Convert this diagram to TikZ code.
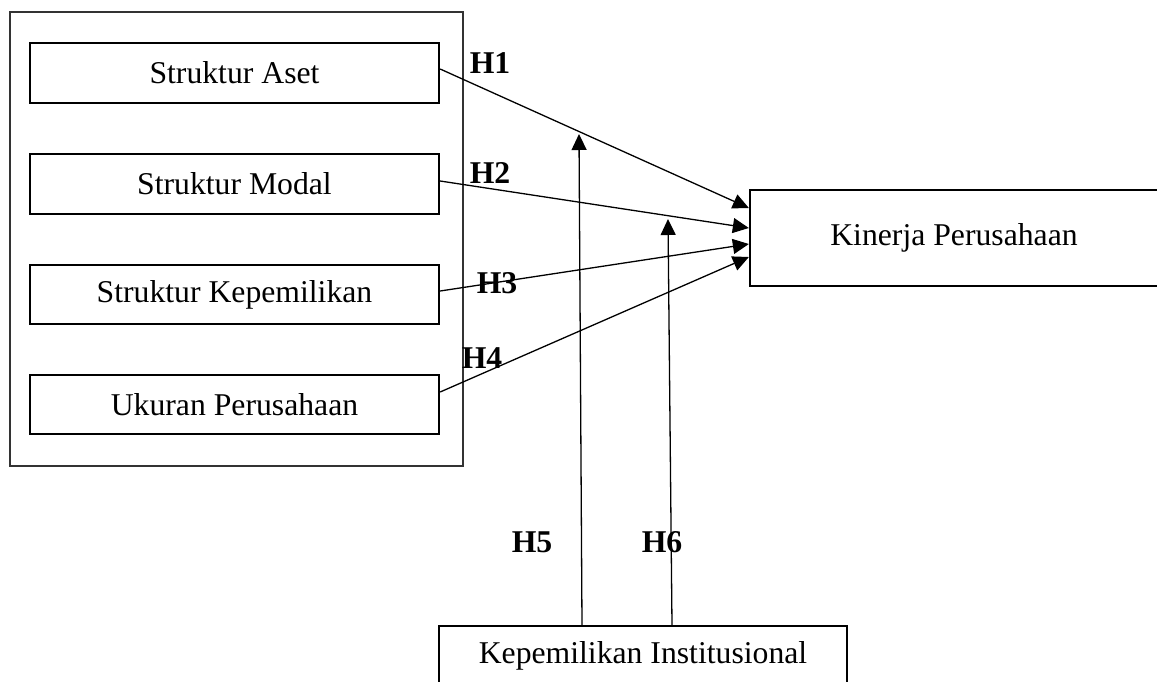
\documentclass[tikz,border=0pt]{standalone}
\usepackage{fontspec}
\setmainfont{Liberation Serif}
\usetikzlibrary{arrows.meta,calc}
\begin{document}
\begin{tikzpicture}[x=1pt,y=-1pt,
  varbox/.style={draw=black,line width=2.3pt,inner sep=0pt,minimum width=409pt,minimum height=60pt,
    font=\fontsize{31.7}{38}\selectfont},
  outerbox/.style={draw=black!80,line width=1.6pt},
  hlabel/.style={inner sep=0pt,font=\fontsize{31.7}{38}\selectfont\bfseries},
  conn/.style={line width=1.3pt,-{Triangle[length=16pt,width=15pt]}}]
\useasboundingbox (0,0) rectangle (1157,681);
\clip (0,0) rectangle (1157,681);
\fill[white] (0,0) rectangle (1157,681);
\draw[outerbox] (10,12) rectangle (463,466);
\node[varbox] (sa) at (234.5,73) {Struktur Aset};
\node[varbox] (sm) at (234.5,184) {Struktur Modal};
\node[varbox,minimum height=59pt] (sk) at (234.5,294.5) {Struktur Kepemilikan};
\node[varbox,minimum height=59pt] (up) at (234.5,404.5) {Ukuran Perusahaan};
\node[varbox,minimum width=408pt,minimum height=96pt] (kp) at (954,238) {Kinerja Perusahaan};
\node[varbox,minimum width=408pt,minimum height=60pt] (ki) at (643,656) {Kepemilikan Institusional};
\coordinate (t5) at (579,134);
\coordinate (t6) at (668,219);
\draw[conn] ($(sa.east)+(0,-4)$) -- ($(kp.west)+(0,-30)$);
\draw[conn] ($(sm.east)+(0,-3)$) -- ($(kp.west)+(0,-10)$);
\draw[conn] ($(sk.east)+(0,-3.5)$) -- ($(kp.west)+(0,6)$);
\draw[conn] ($(up.east)+(0,-12.5)$) -- ($(kp.west)+(0,19)$);
\draw[conn] ($(ki.north)+(-61,0)$) -- (t5);
\draw[conn] ($(ki.north)+(29,0)$) -- (t6);
\node[hlabel] (h1) at (490,63) {H1};
\node[hlabel] (h2) at (490,173) {H2};
\node[hlabel] (h3) at (497,283) {H3};
\node[hlabel] (h4) at (482,358) {H4};
\node[hlabel] (h5) at (532,542) {H5};
\node[hlabel] (h6) at (662,542) {H6};
\end{tikzpicture}
\end{document}
